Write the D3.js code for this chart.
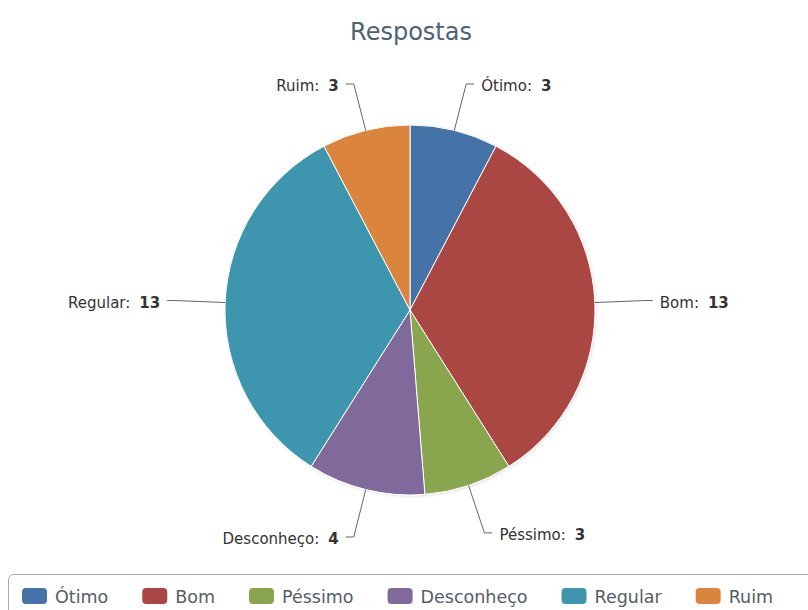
<!DOCTYPE html>
<html>
<head>
<meta charset="utf-8">
<script src="https://cdn.jsdelivr.net/npm/d3@7"></script>
<style>
  html, body { margin: 0; padding: 0; background: #ffffff; }
  svg { display: block; font-family: "DejaVu Sans", Verdana, sans-serif; }
</style>
</head>
<body>
<svg id="chart" width="808" height="610"></svg>
<script>
// Survey answers, in drawing order (clockwise from 12 o'clock)
const categories = ["Ótimo", "Bom", "Péssimo", "Desconheço", "Regular", "Ruim"];
const values = [3, 13, 3, 4, 13, 3];
const colors = ["#4572A7", "#AA4643", "#89A54E", "#80699B", "#3D96AE", "#DB843D"];
const titleText = "Respostas";

const W = 808, H = 610;
const cx = 410, cy = 310, radius = 185;
const labelRadius = radius + 50;   // elbow of each connector
const labelTop = 84, labelBottom = 537; // labels stay inside the plot area

const svg = d3.select("#chart");

const data = categories.map((c, i) => ({ name: c, value: values[i], color: colors[i] }));

// Title
svg.append("text")
  .attr("x", cx + 1).attr("y", 40)
  .attr("text-anchor", "middle")
  .attr("fill", "#4d6274")
  .style("font-size", "24px")
  .text(titleText);

// Soft shadow under the slices
const defs = svg.append("defs");
const f = defs.append("filter").attr("id", "shadow")
  .attr("x", "-10%").attr("y", "-10%").attr("width", "120%").attr("height", "120%");
f.append("feDropShadow").attr("dx", 1).attr("dy", 1).attr("stdDeviation", 1.5)
  .attr("flood-color", "#000").attr("flood-opacity", 0.12);

const pie = d3.pie().sort(null).value(d => d.value).startAngle(0).endAngle(2 * Math.PI);
const arc = d3.arc().innerRadius(0).outerRadius(radius);
const arcs = pie(data);

const g = svg.append("g").attr("transform", `translate(${cx},${cy})`);
g.append("g").attr("filter", "url(#shadow)")
  .selectAll("path")
  .data(arcs)
  .join("path")
  .attr("d", arc)
  .attr("fill", d => d.data.color)
  .attr("stroke", "#ffffff")
  .attr("stroke-width", 1)
  .attr("stroke-linejoin", "round");

// Data labels with bent connectors
const labels = svg.append("g");
arcs.forEach(a => {
  const mid = (a.startAngle + a.endAngle) / 2;
  const sx = Math.sin(mid), cyv = -Math.cos(mid);
  const right = sx >= 0;
  const ex = cx + sx * radius, ey = cy + cyv * radius;
  const bx = cx + sx * labelRadius;
  const by = Math.max(labelTop, Math.min(labelBottom, cy + cyv * labelRadius));
  const hx = bx + (right ? 8 : -8);
  labels.append("path")
    .attr("d", `M${hx},${by}L${bx},${by}L${ex},${ey}`)
    .attr("fill", "none")
    .attr("stroke", "#666")
    .attr("stroke-width", 1);
  const t = labels.append("text")
    .attr("x", hx + (right ? 7 : -7))
    .attr("y", by + 7)
    .attr("text-anchor", right ? "start" : "end")
    .attr("fill", "#333")
    .style("font-size", "15px");
  t.append("tspan").text(a.data.name + ":");
  t.append("tspan").attr("dx", 9).attr("font-weight", "bold").text(a.data.value);
});

// Legend
const legend = svg.append("g");
legend.append("rect")
  .attr("x", 8.5).attr("y", 574.5)
  .attr("width", 830).attr("height", 70)
  .attr("rx", 5)
  .attr("fill", "#fff")
  .attr("stroke", "#a8a8a8")
  .attr("stroke-width", 1);

let lx = 22;
data.forEach(d => {
  const item = legend.append("g").attr("transform", `translate(${lx},0)`);
  item.append("rect")
    .attr("x", 0).attr("y", 588)
    .attr("width", 25).attr("height", 16)
    .attr("rx", 4)
    .attr("fill", d.color);
  const txt = item.append("text")
    .attr("x", 33).attr("y", 603)
    .attr("fill", "#555d66")
    .style("font-size", "17.5px")
    .text(d.name);
  lx += 33 + txt.node().getComputedTextLength() + 34;
});
</script>
</body>
</html>
